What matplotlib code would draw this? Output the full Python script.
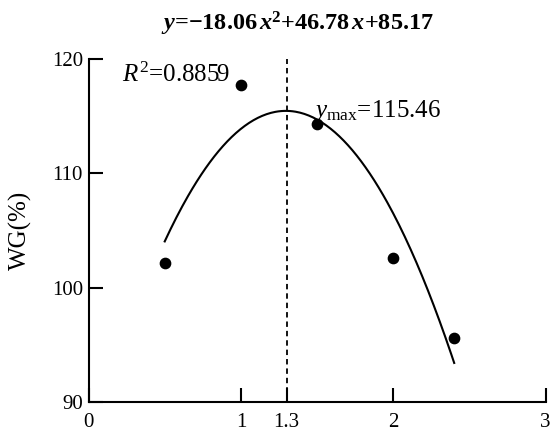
import numpy as np
import matplotlib
matplotlib.use("Agg")
import matplotlib.pyplot as plt

plt.rcParams["font.family"] = "Liberation Serif"
plt.rcParams["mathtext.fontset"] = "custom"
plt.rcParams["mathtext.rm"] = "Liberation Serif"
plt.rcParams["mathtext.it"] = "Liberation Serif:italic"
plt.rcParams["mathtext.bf"] = "Liberation Serif:bold"
plt.rcParams["mathtext.bfit"] = "Liberation Serif:bold:italic"

# data
dose = [0.5, 1.0, 1.5, 2.0, 2.4]
wg = [102.2, 117.7, 114.3, 102.6, 95.6]
fit_coef = [-18.06, 46.78, 85.17]
r2 = 0.8859
x_opt = 1.3
y_max = 115.46
xticks = [0, 1, 1.3, 2, 3]
xticklabels = ["0", "1", "1.3", "2", "3"]
yticks = [90, 100, 110, 120]

fig = plt.figure(figsize=(5.5, 4.42), dpi=100)
ax = fig.add_axes([0.161, 0.0905, 0.831, 0.776])

xs = np.linspace(min(dose), max(dose), 200)
ax.plot(xs, np.polyval(fit_coef, xs), color="black", lw=1.5)
ax.scatter(dose, wg, s=55, color="black", zorder=3)
ax.axvline(x_opt, color="black", lw=1.3, ls=(0, (3, 2.2)))

ax.set_xlim(0, 3)
ax.set_ylim(90, 120)
ax.set_xticks(xticks)
ax.set_xticklabels(xticklabels)
ax.set_yticks(yticks)
ax.spines["top"].set_visible(False)
ax.spines["right"].set_visible(False)
for s in ["left", "bottom"]:
    ax.spines[s].set_linewidth(1.5)
ax.tick_params(direction="in", length=10, width=1.5, labelsize=15)
ax.tick_params(axis="x", pad=8)
ax.tick_params(axis="y", pad=4)
ax.set_ylabel("WG(%)", fontsize=18, labelpad=14)

ax.text(0.22, 118.0, r"$R^{2}$=" + f"{r2:.4f}", fontsize=18)
ax.text(1.47, 114.9, r"$y_{\rm max}$=" + f"{y_max:.2f}", fontsize=18)

fig.text(0.54, 0.947,
         r"$\mathbfit{y}$" + "=\u221218.06" + r"$\,\mathbfit{x}^{\mathbf{2}}$" + "+46.78" + r"$\,\mathbfit{x}$" + "+85.17",
         fontsize=17.5, fontweight="bold", ha="center", va="center")

fig.savefig("out.png", dpi=100)
